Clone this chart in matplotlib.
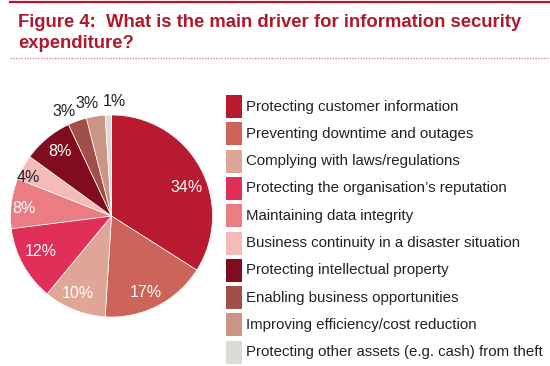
import matplotlib

matplotlib.use("Agg")
import matplotlib.pyplot as plt
import numpy as np
from matplotlib.lines import Line2D
from matplotlib.patches import Rectangle

plt.rcParams["font.family"] = ["Liberation Sans", "DejaVu Sans"]

labels = [
    "Protecting customer information",
    "Preventing downtime and outages",
    "Complying with laws/regulations",
    "Protecting the organisation\u2019s reputation",
    "Maintaining data integrity",
    "Business continuity in a disaster situation",
    "Protecting intellectual property",
    "Enabling business opportunities",
    "Improving efficiency/cost reduction",
    "Protecting other assets (e.g. cash) from theft",
]
shares = [34, 17, 10, 12, 8, 4, 8, 3, 3, 1]
colors = [
    "#b81a30", "#cc6459", "#dfa597", "#e0305a", "#ea7c82",
    "#f5baba", "#7f0c1f", "#a14f48", "#cb9485", "#dddbd6",
]
label_colors = ["white"] * 5 + ["#222222", "white"] + ["#222222"] * 3
# where each % label sits: radius (pie = 1) and nudge off the wedge middle (deg)
label_dist = [0.79, 0.83, 0.84, 0.79, 0.87, 0.91, 0.82, 1.13, 1.14, 1.13]
label_nudge = [-8, -3, -2, -2, 2.5, 4, -1, 4.5, 3, -3]

RED = "#b0182c"
W, H = 550, 366
fig = plt.figure(figsize=(W / 100, H / 100), dpi=100)

# header: solid rule, two-line title, dotted rule
fig.add_artist(Line2D([10 / W, 1], [1 - 2 / H] * 2, color=RED, lw=1.6))
fig.text(18 / W, 1 - 27 / H, "Figure 4:  What is the main driver for information security",
         color=RED, fontsize=13.3, fontweight="bold", va="baseline")
fig.text(18 / W, 1 - 48 / H, "expenditure?",
         color=RED, fontsize=13.3, fontweight="bold", va="baseline")
fig.add_artist(Line2D([10 / W, 1], [1 - 58 / H] * 2, color="#c98a90", lw=1.0,
                      linestyle=(0, (1, 1))))

# pie
cx, cy, r = 111.5, 216, 101
ax = fig.add_axes([(cx - r) / W, (H - cy - r) / H, 2 * r / W, 2 * r / H])
wedges, _ = ax.pie(shares, colors=colors, startangle=90, counterclock=False,
                   wedgeprops=dict(edgecolor="white", linewidth=0.5))
ax.set_xlim(-1, 1)
ax.set_ylim(-1, 1)
for w, s, d, n, c in zip(wedges, shares, label_dist, label_nudge, label_colors):
    ang = np.deg2rad((w.theta1 + w.theta2) / 2 + n)
    ax.text(d * np.cos(ang), d * np.sin(ang), f"{s}%", color=c, fontsize=11.5,
            ha="center", va="center", clip_on=False)

# legend
lx, ly, pitch = 226, 95, 27.3
for i, (lab, col) in enumerate(zip(labels, colors)):
    top = ly + i * pitch
    fig.add_artist(Rectangle((lx / W, 1 - (top + 23) / H), 16 / W, 23 / H,
                             facecolor=col, edgecolor="none"))
    fig.text(246 / W, 1 - (top + 11.5) / H, lab, fontsize=10.8, color="#222222",
             va="center", ha="left")

fig.savefig("out.png", dpi=100)
